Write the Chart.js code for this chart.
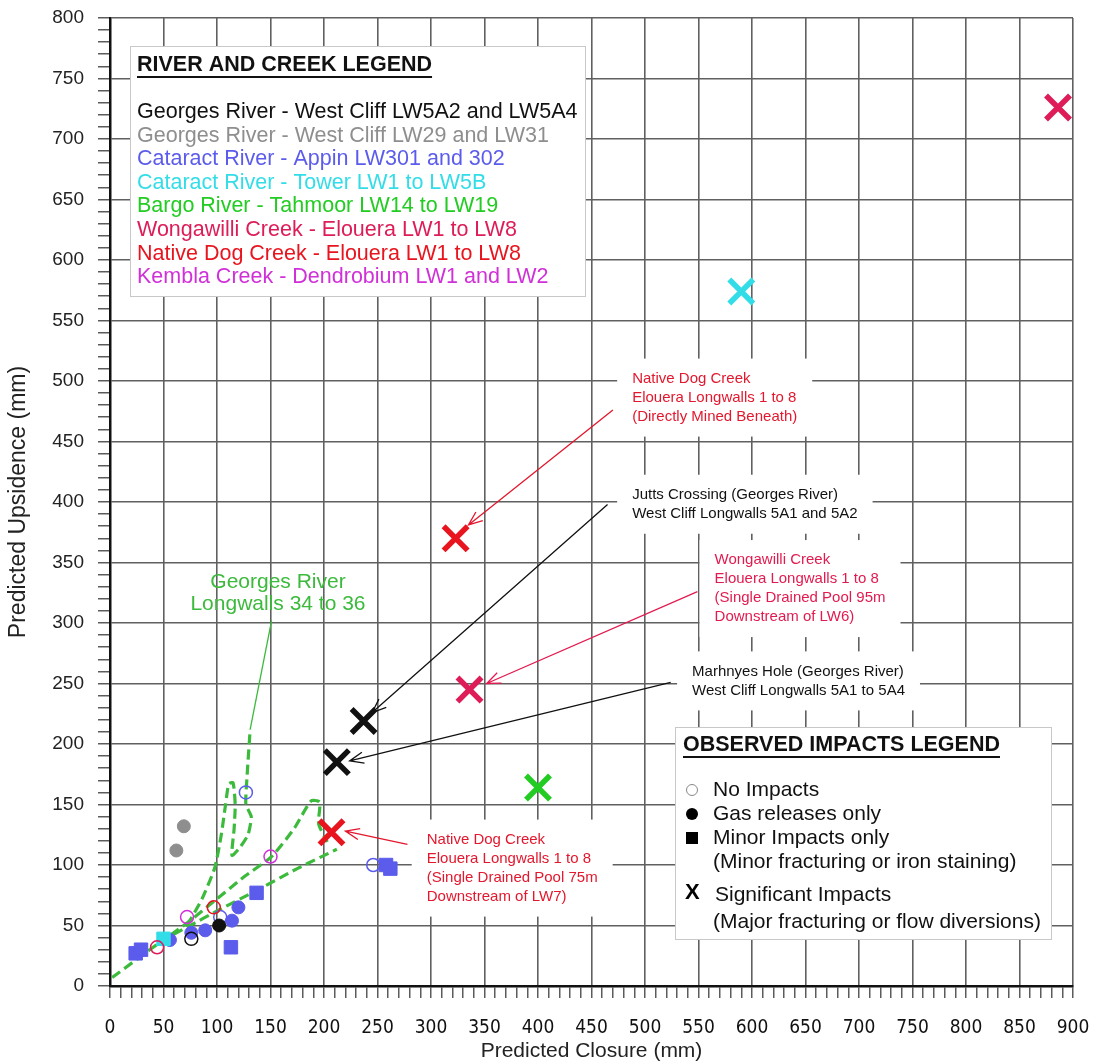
<!DOCTYPE html>
<html>
<head>
<meta charset="utf-8">
<title>Predicted Closure vs Predicted Upsidence</title>
<script src="https://cdn.jsdelivr.net/npm/chart.js@4.4.1/dist/chart.umd.min.js"></script>
<style>
  html, body { margin: 0; padding: 0; background: #fff; }
  canvas { display: block; }
</style>
</head>
<body>
<canvas id="upsidenceChart" width="1104" height="1064"></canvas>
<script>
// impact codes: 'X' significant, 'gas' gas releases only, 'minor' minor impacts only, 'none' no impacts
var georges5AClosure = [237, 212, 102, 76];
var georges5AUpsidence = [219, 185, 50, 39];
var georges5AImpact = ['X', 'X', 'gas', 'none'];

var georges29Closure = [69, 62];
var georges29Upsidence = [132, 112];
var georges29Impact = ['gas', 'gas'];

var appinClosure = [127, 246, 103, 120, 114, 89, 56, 76, 258, 262, 137, 113, 24, 29];
var appinUpsidence = [160, 100, 57, 65, 54, 46, 38, 44, 100, 97, 77, 32, 27, 30];
var appinImpact = ['none', 'none', 'none', 'gas', 'gas', 'gas', 'gas', 'gas', 'minor', 'minor', 'minor', 'minor', 'minor', 'minor'];

var towerClosure = [590, 50];
var towerUpsidence = [574, 39];
var towerImpact = ['X', 'minor'];

var bargoClosure = [400];
var bargoUpsidence = [164];
var bargoImpact = ['X'];

var wongawilliClosure = [886, 336, 44];
var wongawilliUpsidence = [726, 245, 32];
var wongawilliImpact = ['X', 'X', 'none'];

var nativeDogClosure = [323, 207, 97];
var nativeDogUpsidence = [370, 127, 65];
var nativeDogImpact = ['X', 'X', 'none'];

var kemblaClosure = [150, 72];
var kemblaUpsidence = [107, 57];
var kemblaImpact = ['none', 'none'];

var riverLabels = [
  'Georges River - West Cliff LW5A2 and LW5A4',
  'Georges River - West Cliff LW29 and LW31',
  'Cataract River - Appin LW301 and 302',
  'Cataract River - Tower LW1 to LW5B',
  'Bargo River - Tahmoor LW14 to LW19',
  'Wongawilli Creek - Elouera LW1 to LW8',
  'Native Dog Creek - Elouera LW1 to LW8',
  'Kembla Creek - Dendrobium LW1 and LW2'
];
var riverColours = ['#111111', '#8e8e8e', '#5b5bec', '#33dde8', '#22cc22', '#dd1c58', '#e8141e', '#d030d8'];

// Georges River Longwalls 34 to 36 envelopes (dashed)
var lw34LowerClosure = [2, 25, 50, 75, 100, 137, 175, 212];
var lw34LowerUpsidence = [7, 22, 38, 50, 62, 79, 97, 113];
var lw34MiddleClosure = [45, 72, 100, 125, 151, 172, 188, 196, 195, 203];
var lw34MiddleUpsidence = [35, 52, 72, 90, 107, 130, 153, 152, 134, 119];
var lw34UpperClosure = [72, 86, 98, 104, 108, 111, 115, 117, 116, 114, 121, 129, 132, 127, 128, 131];
var lw34UpperUpsidence = [50, 72, 98, 125, 150, 167, 168, 150, 130, 108, 114, 125, 140, 150, 172, 212];

var xTickStep = 10;
var yTickStep = 10;
var labelEvery = 50;

var notes = [
  { lines: ['Native Dog Creek', 'Elouera Longwalls 1 to 8', '(Directly Mined Beneath)'], colour: '#e3172d', at: [488, 502], from: [470, 476], to: [335, 381] },
  { lines: ['Jutts Crossing (Georges River)', 'West Cliff Longwalls 5A1 and 5A2'], colour: '#111111', at: [488, 406], from: [465, 398], to: [245, 226] },
  { lines: ['Wongawilli Creek', 'Elouera Longwalls 1 to 8', '(Single Drained Pool 95m', 'Downstream of LW6)'], colour: '#e21a4f', at: [565, 352], from: [549, 326], to: [352, 250] },
  { lines: ['Marhnyes Hole (Georges River)', 'West Cliff Longwalls 5A1 to 5A4'], colour: '#111111', at: [544, 260], from: [524, 251], to: [224, 186] },
  { lines: ['Native Dog Creek', 'Elouera Longwalls 1 to 8', '(Single Drained Pool 75m', 'Downstream of LW7)'], colour: '#e3172d', at: [296, 121], from: [278, 117], to: [220, 128] }
];

function toPoints(xs, ys) {
  return xs.map(function(x, i) { return { x: x, y: ys[i] }; });
}

function riverDataset(label, colour, xs, ys, impacts) {
  return {
    label: label,
    data: toPoints(xs, ys),
    pointStyle: impacts.map(function(k) { return k === 'X' ? 'crossRot' : (k === 'minor' ? 'rect' : 'circle'); }),
    pointRadius: impacts.map(function(k) { return k === 'X' ? 17 : (k === 'minor' ? 9.5 : 6.5); }),
    pointBorderWidth: impacts.map(function(k) { return k === 'X' ? 5.5 : (k === 'none' ? 1.5 : 1); }),
    pointBorderColor: colour,
    pointBackgroundColor: impacts.map(function(k) { return k === 'none' ? 'rgba(255,255,255,0)' : colour; })
  };
}

function envelope(xs, ys) {
  return {
    type: 'line',
    data: toPoints(xs, ys),
    showLine: true,
    borderColor: '#3cba3c',
    borderWidth: 3.2,
    borderDash: [10, 5],
    tension: 0.2,
    pointRadius: 0,
    fill: false
  };
}

var datasets = [
  riverDataset(riverLabels[6], riverColours[6], nativeDogClosure, nativeDogUpsidence, nativeDogImpact),
  riverDataset(riverLabels[5], riverColours[5], wongawilliClosure, wongawilliUpsidence, wongawilliImpact),
  riverDataset(riverLabels[0], riverColours[0], georges5AClosure, georges5AUpsidence, georges5AImpact),
  riverDataset(riverLabels[3], riverColours[3], towerClosure, towerUpsidence, towerImpact),
  riverDataset(riverLabels[4], riverColours[4], bargoClosure, bargoUpsidence, bargoImpact),
  riverDataset(riverLabels[7], riverColours[7], kemblaClosure, kemblaUpsidence, kemblaImpact),
  riverDataset(riverLabels[2], riverColours[2], appinClosure, appinUpsidence, appinImpact),
  riverDataset(riverLabels[1], riverColours[1], georges29Closure, georges29Upsidence, georges29Impact),
  envelope(lw34LowerClosure, lw34LowerUpsidence),
  envelope(lw34MiddleClosure, lw34MiddleUpsidence),
  envelope(lw34UpperClosure, lw34UpperUpsidence)
];

var SANS = "'Liberation Sans', Arial, sans-serif";
var NARROW = "'Liberation Sans Narrow', 'DejaVu Sans Condensed', " + SANS;

function gridColour(c) {
  return c.tick && c.tick.value % labelEvery === 0 ? '#606060' : 'rgba(0,0,0,0)';
}

// keep tick labels from pushing the plot area in; the layout padding handles it
function noPadding() {
  return { left: 0, top: 0, right: 0, bottom: 0 };
}

function panel(ctx, x, y, w, h) {
  ctx.fillStyle = '#ffffff';
  ctx.fillRect(x, y, w, h);
  ctx.strokeStyle = '#c8c8c8';
  ctx.lineWidth = 1;
  ctx.strokeRect(x + 0.5, y + 0.5, w, h);
}

function underlined(ctx, text, x, y) {
  ctx.fillText(text, x, y);
  var w = ctx.measureText(text).width;
  ctx.fillRect(x, y + 11, w, 2);
}

function arrow(ctx, x1, y1, x2, y2, colour) {
  var a = Math.atan2(y1 - y2, x1 - x2);
  ctx.strokeStyle = colour;
  ctx.lineWidth = 1.3;
  ctx.beginPath();
  ctx.moveTo(x1, y1);
  ctx.lineTo(x2, y2);
  ctx.moveTo(x2 + 15 * Math.cos(a + 0.38), y2 + 15 * Math.sin(a + 0.38));
  ctx.lineTo(x2, y2);
  ctx.lineTo(x2 + 15 * Math.cos(a - 0.38), y2 + 15 * Math.sin(a - 0.38));
  ctx.stroke();
}

function noteBox(ctx, n, sx, sy) {
  ctx.font = '15px ' + SANS;
  var w = 0;
  n.lines.forEach(function(t) { w = Math.max(w, ctx.measureText(t).width); });
  var px = sx.getPixelForValue(n.at[0]), py = sy.getPixelForValue(n.at[1]);
  return { x: px - 15, y: py - 20, w: w + 30, h: (n.lines.length - 1) * 19 + 40, px: px, py: py };
}

var notesPlugin = {
  id: 'notes',
  beforeDatasetsDraw: function(chart) {
    var ctx = chart.ctx, a = chart.chartArea, sx = chart.scales.x, sy = chart.scales.y;
    ctx.save();
    panel(ctx, a.left + 20, a.top + 28, 455, 250);
    panel(ctx, a.left + 565, a.top + 709, 376, 212);
    notes.forEach(function(n) {
      var b = noteBox(ctx, n, sx, sy);
      ctx.fillStyle = '#ffffff';
      ctx.fillRect(b.x, b.y, b.w, b.h);
    });
    ctx.restore();
  },
  afterDatasetsDraw: function(chart) {
    var ctx = chart.ctx, a = chart.chartArea, sx = chart.scales.x, sy = chart.scales.y;
    ctx.save();
    ctx.textBaseline = 'middle';
    ctx.textAlign = 'left';

    // annotations and leader arrows
    notes.forEach(function(n) {
      var b = noteBox(ctx, n, sx, sy);
      ctx.fillStyle = n.colour;
      n.lines.forEach(function(t, i) { ctx.fillText(t, b.px, b.py + i * 19); });
      arrow(ctx, sx.getPixelForValue(n.from[0]), sy.getPixelForValue(n.from[1]),
        sx.getPixelForValue(n.to[0]), sy.getPixelForValue(n.to[1]), n.colour);
    });

    // Georges River Longwalls 34 to 36 label
    ctx.strokeStyle = '#3cba3c';
    ctx.lineWidth = 1.3;
    ctx.beginPath();
    ctx.moveTo(sx.getPixelForValue(151), sy.getPixelForValue(302));
    ctx.lineTo(sx.getPixelForValue(131), sy.getPixelForValue(212));
    ctx.stroke();
    ctx.fillStyle = '#3cba3c';
    ctx.font = '21px ' + SANS;
    ctx.textAlign = 'center';
    ctx.fillText('Georges River', sx.getPixelForValue(157), sy.getPixelForValue(334));
    ctx.fillText('Longwalls 34 to 36', sx.getPixelForValue(157), sy.getPixelForValue(334) + 22);
    ctx.textAlign = 'left';

    // river and creek legend
    var lx = a.left + 27, ly = a.top + 28;
    ctx.fillStyle = '#111111';
    ctx.font = 'bold 21.5px ' + SANS;
    underlined(ctx, 'RIVER AND CREEK LEGEND', lx, ly + 19);
    ctx.font = '21.5px ' + SANS;
    riverLabels.forEach(function(t, i) {
      ctx.fillStyle = riverColours[i];
      ctx.fillText(t, lx, ly + 66 + i * 23.6);
    });

    // observed impacts legend
    var ox = a.left + 565, oy = a.top + 709;
    ctx.fillStyle = '#111111';
    ctx.font = 'bold 21.5px ' + SANS;
    underlined(ctx, 'OBSERVED IMPACTS LEGEND', ox + 8, oy + 18);
    ctx.font = '21px ' + SANS;
    ctx.fillText('No Impacts', ox + 38, oy + 63);
    ctx.fillText('Gas releases only', ox + 38, oy + 87);
    ctx.fillText('Minor Impacts only', ox + 38, oy + 111);
    ctx.fillText('(Minor fracturing or iron staining)', ox + 38, oy + 135);
    ctx.fillText('Significant Impacts', ox + 40, oy + 168);
    ctx.fillText('(Major fracturing or flow diversions)', ox + 38, oy + 195);
    ctx.strokeStyle = '#888888';
    ctx.lineWidth = 1;
    ctx.beginPath();
    ctx.arc(ox + 17, oy + 63, 5.5, 0, Math.PI * 2);
    ctx.stroke();
    ctx.fillStyle = '#000000';
    ctx.beginPath();
    ctx.arc(ox + 17, oy + 87, 6, 0, Math.PI * 2);
    ctx.fill();
    ctx.fillRect(ox + 11, oy + 105, 12, 12);
    ctx.font = 'bold 22px ' + SANS;
    ctx.fillText('X', ox + 10, oy + 166);
    ctx.restore();
  }
};

var upsidenceChart = new Chart(document.getElementById('upsidenceChart'), {
  type: 'scatter',
  data: { datasets: datasets },
  options: {
    responsive: false,
    animation: false,
    events: [],
    layout: { autoPadding: false, padding: { top: 18, right: 31, left: 0, bottom: 0 } },
    plugins: { legend: { display: false }, tooltip: { enabled: false } },
    scales: {
      x: {
        type: 'linear',
        min: 0,
        max: 900,
        ticks: {
          stepSize: xTickStep,
          autoSkip: false,
          maxRotation: 0,
          minRotation: 0,
          padding: 19,
          color: '#111111',
          font: { family: NARROW, size: 19 },
          callback: function(v) { return v % labelEvery === 0 ? v : ''; }
        },
        grid: { color: gridColour, tickColor: '#333333', tickLength: 12, lineWidth: 1.6, tickWidth: 1.2 },
        border: { color: '#111111', width: 2.5 },
        title: { display: true, text: 'Predicted Closure (mm)', color: '#222222', font: { family: SANS, size: 21 }, padding: { top: 0, bottom: 0 } },
        afterFit: function(s) { s.height = 78; s.getPadding = noPadding; }
      },
      y: {
        type: 'linear',
        min: 0,
        max: 800,
        ticks: {
          stepSize: yTickStep,
          autoSkip: false,
          padding: 14,
          color: '#222222',
          font: { family: SANS, size: 19 },
          callback: function(v) { return v % labelEvery === 0 ? v : ''; }
        },
        grid: { color: gridColour, tickColor: '#333333', tickLength: 12, lineWidth: 1.6, tickWidth: 1.2 },
        border: { color: '#111111', width: 2.5 },
        title: { display: true, text: 'Predicted Upsidence (mm)', color: '#222222', font: { family: SANS, size: 23 }, padding: { top: 5, bottom: 0 } },
        afterFit: function(s) { s.width = 110; s.getPadding = noPadding; }
      }
    }
  },
  plugins: [notesPlugin]
});
</script>
</body>
</html>
